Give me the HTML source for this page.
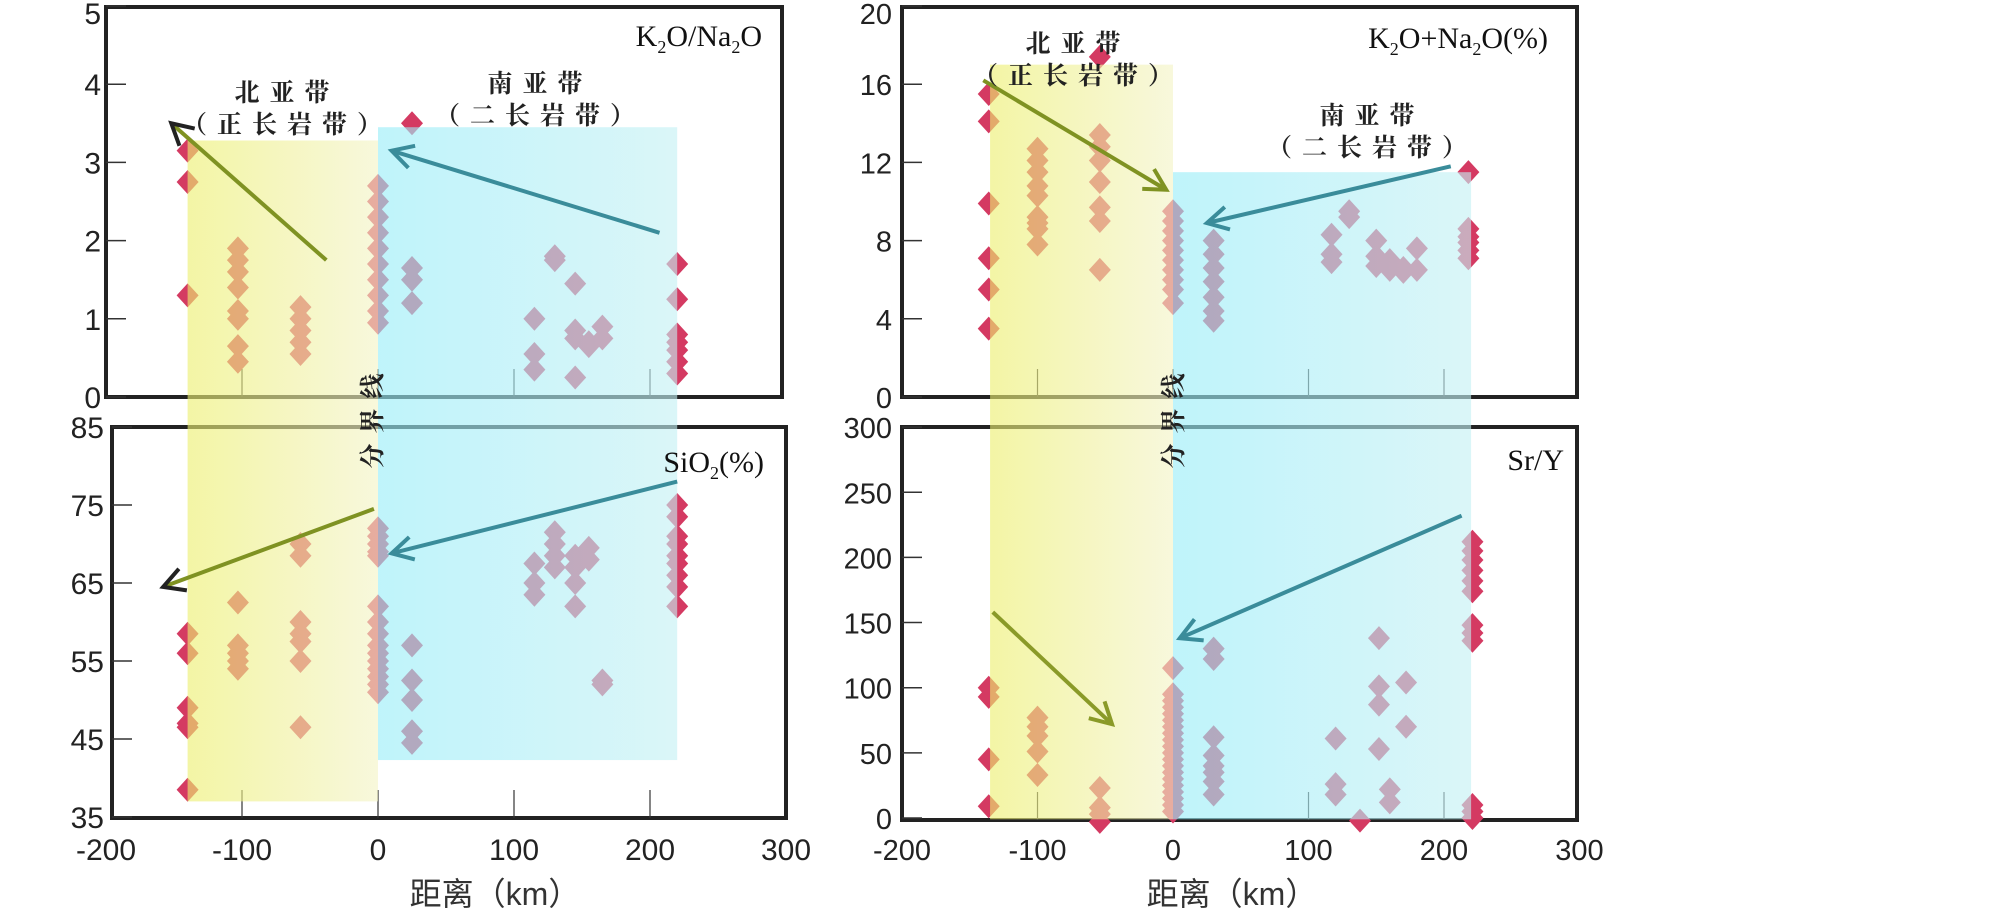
<!DOCTYPE html>
<html><head><meta charset="utf-8">
<style>
html,body{margin:0;padding:0;background:#fff;}
svg{display:block;}
.tk{font-family:"Liberation Sans Narrow","Liberation Sans",sans-serif;font-size:30px;fill:#222;}
.tkr{font-family:"Liberation Sans",sans-serif;font-size:29px;fill:#222;}
.ttl{font-family:"Liberation Serif",serif;font-size:30px;fill:#111;}
.cn{font-family:"Liberation Sans","Noto Serif CJK SC","Noto Sans CJK SC",serif;font-size:25px;font-weight:bold;fill:#222;letter-spacing:10px;}
.xl{font-family:"Liberation Sans","Noto Sans CJK SC",sans-serif;font-size:32px;fill:#333;}
</style></head>
<body>
<svg id="chart" width="2008" height="909" viewBox="0 0 2008 909" xmlns="http://www.w3.org/2000/svg">
<defs>
<linearGradient id="gy" x1="0" x2="1" y1="0" y2="0"><stop offset="0" stop-color="#ecef6e"/><stop offset="1" stop-color="#f3f3c6"/></linearGradient>
<linearGradient id="gb" x1="0" x2="1" y1="0" y2="0"><stop offset="0" stop-color="#98edf8"/><stop offset="1" stop-color="#c4f0f4"/></linearGradient>
</defs>
<g id="frames"></g>
<g id="pts"></g>
<g id="shade"></g>
<g id="over"></g>
</svg>
<script>
// ---- data ----
const k2oNa2oX = [-140,-140,-140,-103,-103,-103,-103,-103,-103,-103,-103,-57,-57,-57,-57,-57,0,0,0,0,0,0,0,0,0,0,25,25,25,25,115,115,115,130,130,145,145,145,145,155,155,165,165,220,220,220,220,220,220,220];
const k2oNa2oY = [3.15,2.75,1.3,1.9,1.75,1.6,1.4,1.1,1.0,0.65,0.45,1.15,1.0,0.85,0.7,0.55,2.7,2.5,2.3,2.1,1.9,1.7,1.5,1.3,1.1,0.95,3.5,1.65,1.5,1.2,1.0,0.55,0.35,1.8,1.75,1.45,0.85,0.75,0.25,0.7,0.65,0.9,0.75,1.7,1.25,0.8,0.7,0.6,0.45,0.3];
const sio2X = [-140,-140,-140,-140,-140,-140,-103,-103,-103,-103,-103,-57,-57,-57,-57,-57,-57,-57,0,0,0,0,0,0,0,0,0,0,0,0,0,0,0,25,25,25,25,25,115,115,115,130,130,130,130,145,145,145,145,155,155,165,165,220,220,220,220,220,220,220,220,220];
const sio2Y = [58.5,56,49,47,46.5,38.5,62.5,57,56,55,54,70,68.5,60,58.5,57.5,55,46.5,72,71,70,69,68.5,62,60,58.5,57,56,55,54,53,52,51,57,52.5,50,46,44.5,67.5,65,63.5,71.5,70,68.5,67,68.5,67,65,62,69.5,68,52.5,52,75,73.5,71,70,68.5,67.5,66,64.5,62];
const alkX = [-136,-136,-136,-136,-136,-136,-100,-100,-100,-100,-100,-100,-100,-100,-100,-54,-54,-54,-54,-54,-54,-54,-54,0,0,0,0,0,0,0,0,0,0,30,30,30,30,30,30,30,117,117,117,130,130,150,150,150,160,160,170,170,180,180,218,218,218,218,218,218];
const alkY = [15.5,14.1,9.9,7.1,5.5,3.5,12.7,12.1,11.5,10.8,10.3,9.2,8.9,8.6,7.8,17.4,13.4,12.8,12.1,11,9.7,9.0,6.5,9.5,9.0,8.5,8.0,7.5,7.0,6.5,6.0,5.5,4.8,8.0,7.3,6.6,5.9,5.1,4.4,3.9,8.3,7.3,6.9,9.5,9.2,8.0,7.2,6.7,7.0,6.5,6.6,6.4,7.6,6.5,11.5,8.6,8.2,7.9,7.5,7.1];
const srYX = [-136,-136,-136,-136,-100,-100,-100,-100,-100,-54,-54,-54,-54,0,0,0,0,0,0,0,0,0,0,0,0,0,0,0,0,0,0,0,0,30,30,30,30,30,30,30,30,120,120,120,138,152,152,152,152,160,160,172,172,221,221,221,221,221,221,221,221,221,221,221,221];
const srYY = [100,93,45,9,77,70,63,51,33,23,8,3,-3,115,95,90,85,80,75,70,65,60,55,50,45,40,35,30,25,20,15,10,5,130,122,62,48,40,35,28,18,61,26,18,-2,138,101,87,53,22,12,104,70,212,205,198,190,182,174,148,142,136,10,5,0];
const yTicksTL = [0,1,2,3,4,5];
const yTicksBL = [35,45,55,65,75,85];
const yTicksTR = [0,4,8,12,16,20];
const yTicksBR = [0,50,100,150,200,250,300];
const xTicks = [-200,-100,0,100,200,300];

// ---- scales ----
const xL = v => 378 + v*1.36;
const xR = v => 1173 + v*1.355;
const yTL = v => 397 - v*78.2;
const yBL = v => 817 - (v-35)*7.8;
const yTR = v => 397 - v*19.55;
const yBR = v => 818 - v*1.303;

const NS = 'http://www.w3.org/2000/svg';
function mk(tag, attrs, parent, txt){
  const e = document.createElementNS(NS, tag);
  for (const k in attrs) e.setAttribute(k, attrs[k]);
  if (txt !== undefined) e.textContent = txt;
  parent.appendChild(e);
  return e;
}
const G = id => document.getElementById(id);

function frame(x0,y0,x1,y1,ticks,ys,lblCls,labelX,xs,showXLabels,name){
  const g = mk('g',{},G('frames'));
  
  
  const r = mk('rect',{x:x0,y:y0,width:x1-x0,height:y1-y0,fill:'none',stroke:'#222','stroke-width':4},g);
  
  
  ticks.forEach(t=>{
    const y = ys(t);
    mk('line',{x1:x0,x2:x0+20,y1:y,y2:y,stroke:'#333','stroke-width':1.5},g);
    const tx = mk('text',{x:labelX,y:Math.max(y+11,24),'text-anchor':'end',class:lblCls},g,String(t));
    
    
  });
  [-100,0,100,200].forEach(t=>{
    const x = xs(t);
    mk('line',{x1:x,x2:x,y1:y1,y2:y1-28,stroke:'#333','stroke-width':1.2},g);
  });
  if (showXLabels){
    xTicks.forEach(t=>{
      const tx = mk('text',{x:xs(t),y:860,'text-anchor':'middle',class:lblCls},g,String(t));
      
      
    });
  }
}
frame(106,7,782,397,yTicksTL,yTL,'tk',101,xL,false,'k2o-na2o-panel');
frame(112,427,786,818,yTicksBL,yBL,'tk',104,xL,true,'sio2-panel');
frame(902,7,1577,397,yTicksTR,yTR,'tkr',892,xR,false,'alkali-panel');
frame(902,427,1577,820,yTicksBR,yBR,'tkr',892,xR,true,'sr-y-panel');

function pts(xsArr,ysArr,xs,ys,name){
  const g = mk('g',{},G('pts'));
  
  
  xsArr.forEach((xv,i)=>{
    const x = xs(xv), y = ys(ysArr[i]);
    const p = mk('polygon',{points:`${x},${y-12} ${x+11},${y} ${x},${y+12} ${x-11},${y}`,fill:'#d43a62'},g);
    
    
  });
}
pts(k2oNa2oX,k2oNa2oY,xL,yTL,'k2o-na2o-points');
pts(sio2X,sio2Y,xL,yBL,'sio2-points');
pts(alkX,alkY,xR,yTR,'alkali-points');
pts(srYX,srYY,xR,yBR,'sr-y-points');

// shaded zones
function zone(x0,x1,y0,y1,fill,name){
  const r = mk('rect',{x:x0,y:y0,width:x1-x0,height:y1-y0,fill:fill,opacity:0.62},G('shade'));
  
  
}
zone(xL(-140),xL(0),yTL(3.28),yBL(37),'url(#gy)','north-subzone-left');
zone(xL(0),xL(220),yTL(3.45),yBL(42.3),'url(#gb)','south-subzone-left');
zone(xR(-135),xR(0),yTR(17),yBR(-1),'url(#gy)','north-subzone-right');
zone(xR(0),xR(220),yTR(11.5),yBR(-1),'url(#gb)','south-subzone-right');

const O = G('over');
function arrow(xa,ya,xb,yb,col,headCol,name){
  const g = mk('g',{},O);
  
  
  mk('line',{x1:xa,y1:ya,x2:xb,y2:yb,stroke:col,'stroke-width':4},g);
  const a = Math.atan2(yb-ya,xb-xa), L=24, w=0.5;
  const p1=[xb-L*Math.cos(a-w),yb-L*Math.sin(a-w)], p2=[xb-L*Math.cos(a+w),yb-L*Math.sin(a+w)];
  mk('polyline',{points:`${p1} ${xb},${yb} ${p2}`,fill:'none',stroke:headCol,'stroke-width':4},g);
}
arrow(xL(-38),yTL(1.75),xL(-152),yTL(3.5),'#7f9222','#222','north-trend-arrow-1');
arrow(xL(207),yTL(2.1),xL(10),yTL(3.15),'#3a8c9a','#3a8c9a','south-trend-arrow-1');
arrow(xL(-3),yBL(74.5),xL(-158),yBL(64.5),'#7f9222','#222','north-trend-arrow-2');
arrow(xL(220),yBL(78),xL(10),yBL(68.8),'#3a8c9a','#3a8c9a','south-trend-arrow-2');
arrow(xR(-140),yTR(16.2),xR(-5),yTR(10.6),'#7f9222','#7f9222','north-trend-arrow-3');
arrow(xR(205),yTR(11.8),xR(25),yTR(8.9),'#3a8c9a','#3a8c9a','south-trend-arrow-3');
arrow(xR(-133),yBR(158),xR(-45),yBR(72),'#8a9a28','#8a9a28','north-trend-arrow-4');
arrow(xR(213),yBR(232),xR(5),yBR(138),'#3a8c9a','#3a8c9a','south-trend-arrow-4');

function txt(x,y,cls,s,name,anchor){
  const t = mk('text',{x:x,y:y,class:cls,'text-anchor':anchor||'middle'},O);
  t.innerHTML = s;
  
  
  return t;
}
txt(762,46,'ttl','K<tspan font-size="18" dy="7">2</tspan><tspan dy="-7">O/Na</tspan><tspan font-size="18" dy="7">2</tspan><tspan dy="-7">O</tspan>','title-k2o-na2o','end');
txt(764,472,'ttl','SiO<tspan font-size="18" dy="7">2</tspan><tspan dy="-7">(%)</tspan>','title-sio2','end');
txt(1548,48,'ttl','K<tspan font-size="18" dy="7">2</tspan><tspan dy="-7">O+Na</tspan><tspan font-size="18" dy="7">2</tspan><tspan dy="-7">O(%)</tspan>','title-alkali','end');
txt(1564,470,'ttl','Sr/Y','title-sr-y','end');
txt(287,101,'cn','北亚带','north-label-left');
txt(287,133,'cn','（正长岩带）','north-sub-label-left');
txt(540,92,'cn','南亚带','south-label-left');
txt(540,124,'cn','（二长岩带）','south-sub-label-left');
txt(1078,52,'cn','北亚带','north-label-right');
txt(1078,84,'cn','（正长岩带）','north-sub-label-right');
txt(1372,124,'cn','南亚带','south-label-right');
txt(1372,156,'cn','（二长岩带）','south-sub-label-right');
const b1 = txt(0,0,'cn','分界线','boundary-label-left');
b1.setAttribute('transform','translate(381,416) rotate(-90)');
const b2 = txt(0,0,'cn','分界线','boundary-label-right');
b2.setAttribute('transform','translate(1182,416) rotate(-90)');
txt(495,905,'xl','距离（km）','x-axis-title-left');
txt(1232,905,'xl','距离（km）','x-axis-title-right');
</script>
</body></html>
